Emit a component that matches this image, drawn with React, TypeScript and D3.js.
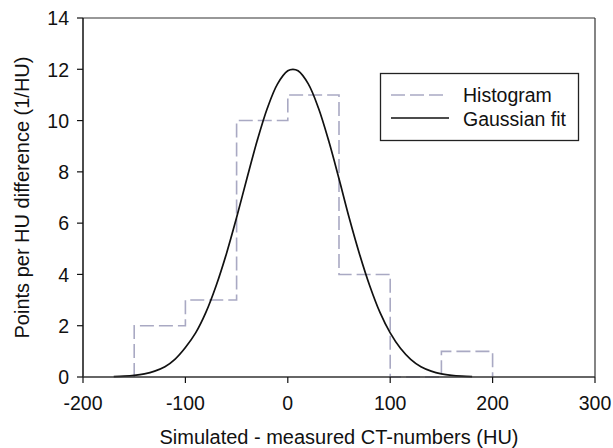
import React from "react";
import * as d3 from "d3";

const binEdges = [-150, -100, -50, 0, 50, 100, 150, 200];
const binCounts = [2, 3, 10, 11, 4, 0, 1];

const fitX = [-170, -160, -150, -140, -130, -120, -110, -100, -90, -80, -70, -60, -50, -40, -30, -20, -10, 0, 5, 10, 20, 30, 40, 50, 60, 70, 80, 90, 100, 110, 120, 130, 140, 150, 160, 170, 180];
const fitY = [0.016, 0.033, 0.065, 0.125, 0.23, 0.4, 0.7, 1.15, 1.72, 2.52, 3.56, 4.8, 6.22, 7.73, 9.2, 10.48, 11.43, 11.94, 12.0, 11.94, 11.43, 10.48, 9.2, 7.73, 6.2, 4.8, 3.56, 2.52, 1.72, 1.12, 0.69, 0.4, 0.23, 0.125, 0.065, 0.033, 0.016];

const xTicks = [-200, -100, 0, 100, 200, 300];
const yTicks = [0, 2, 4, 6, 8, 10, 12, 14];

const legendLabels = ["Histogram", "Gaussian fit"];

const W = 613;
const H = 448;
const L = 83, R = 595, T = 18, B = 377;
const FONT = "'Liberation Sans', Arial, sans-serif";
const FS = 19.5;
const FS_TITLE = 20;
const HIST_COLOR = "#a9a9c3";

export default function App() {
  const x = d3.scaleLinear().domain([-200, 300]).range([L, R]);
  const y = d3.scaleLinear().domain([0, 14]).range([B, T]);

  const histPts: [number, number][] = [[binEdges[0], 0]];
  binCounts.forEach((c, i) => histPts.push([binEdges[i], c]));
  histPts.push([binEdges[binEdges.length - 1], binCounts[binCounts.length - 1]]);
  histPts.push([binEdges[binEdges.length - 1], 0]);

  const stepLine = d3
    .line<[number, number]>()
    .x((d) => x(d[0]))
    .y((d) => y(d[1]))
    .curve(d3.curveStepAfter);

  const fitLine = d3
    .line<number>()
    .x((d) => x(d))
    .y((_, i) => y(fitY[i]))
    .curve(d3.curveCatmullRom);

  return (
    <svg
      width={W}
      height={H}
      style={{ position: "absolute", left: 0, top: 0, background: "#fff" }}
      fontFamily={FONT}
    >
      <rect x={0} y={0} width={W} height={H} fill="#fff" />
      {/* frame */}
      <line x1={L} x2={R} y1={T} y2={T} stroke="#333" strokeWidth={1.2} />
      <line x1={R} x2={R} y1={T} y2={B} stroke="#333" strokeWidth={1.2} />

      {/* histogram */}
      <path
        d={stepLine(histPts) || ""}
        fill="none"
        stroke={HIST_COLOR}
        strokeWidth={1.6}
        strokeDasharray="14,5"
      />
      {/* gaussian fit */}
      <path d={fitLine(fitX) || ""} fill="none" stroke="#111" strokeWidth={1.7} />

      {/* axes */}
      <line x1={L} x2={L} y1={T} y2={B} stroke="#111" strokeWidth={1.5} />
      <line x1={L} x2={R} y1={B} y2={B} stroke="#333" strokeWidth={1.5} />

      {yTicks.map((t) => (
        <g key={"y" + t}>
          <line x1={L - 6} x2={L} y1={y(t)} y2={y(t)} stroke="#111" strokeWidth={1.2} />
          <text x={L - 14} y={y(t)} dy="0.37em" textAnchor="end" fontSize={FS} fill="#111">
            {t}
          </text>
        </g>
      ))}
      {xTicks.map((t) => (
        <g key={"x" + t}>
          <line x1={x(t)} x2={x(t)} y1={B} y2={B + 6} stroke="#111" strokeWidth={1.2} />
          <text x={x(t)} y={410} textAnchor="middle" fontSize={FS} fill="#111">
            {t}
          </text>
        </g>
      ))}

      <text x={(L + R) / 2} y={444} textAnchor="middle" fontSize={FS_TITLE} fill="#111">
        Simulated - measured CT-numbers (HU)
      </text>
      <text
        transform={`translate(28.5, ${(T + B) / 2}) rotate(-90)`}
        textAnchor="middle"
        fontSize={FS_TITLE}
        fill="#111"
      >
        Points per HU difference (1/HU)
      </text>

      {/* legend */}
      <rect x={380.5} y={73.5} width={198} height={67} fill="#fff" stroke="#222" strokeWidth={1.3} />
      <line x1={391} x2={444} y1={95} y2={95} stroke={HIST_COLOR} strokeWidth={1.6} strokeDasharray="14,5" />
      <line x1={391} x2={449} y1={118} y2={118} stroke="#111" strokeWidth={1.5} />
      <text x={463} y={101.5} fontSize={FS} fill="#111">
        {legendLabels[0]}
      </text>
      <text x={463} y={125.5} fontSize={FS} fill="#111">
        {legendLabels[1]}
      </text>
    </svg>
  );
}
